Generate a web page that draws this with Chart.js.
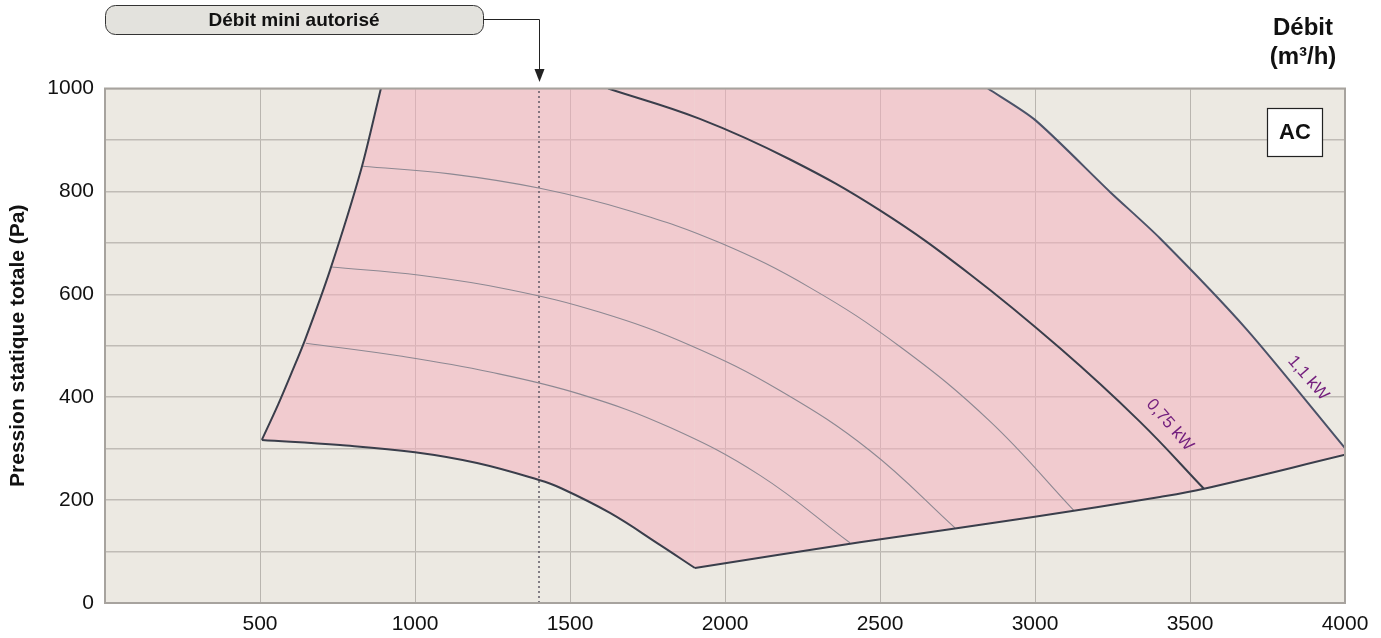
<!DOCTYPE html>
<html>
<head>
<meta charset="utf-8">
<title>Débit / Pression statique - AC</title>
<script src="https://cdn.jsdelivr.net/npm/chart.js"></script>
<style>
  body { margin: 0; background: #fff; }
  canvas { display: block; }
</style>
</head>
<body>
<canvas id="fanChart" width="1381" height="638"></canvas>
<script>
// Débit (m3/h) / pression statique totale (Pa)
const leftEdgeX = [506, 558, 603, 645, 726, 826, 890];
const leftEdgeY = [317, 385, 449, 511, 647, 842, 1000];

const bottomLeftX = [506, 758, 1000, 1200, 1400, 1468, 1629, 1790, 1903];
const bottomLeftY = [317, 307, 293, 272, 239, 224, 175, 113, 68];

const bottomRightX = [1903, 2435, 2994, 3403, 3545, 4000];
const bottomRightY = [68, 118, 167, 206, 222, 288];

const kw075X = [1623, 1919, 2210, 2500, 2790, 3081, 3339, 3545];
const kw075Y = [1000, 941, 862, 763, 639, 495, 352, 222];

const kw11X = [2848, 3000, 3242, 3403, 3684, 4000];
const kw11Y = [1000, 939, 799, 709, 531, 301];

// courbes de vitesse (fines, grises)
const speedAX = [831, 1113, 1403, 1694, 1984, 2274, 2565, 2855, 3125];
const speedAY = [849, 834, 806, 762, 700, 613, 498, 353, 180];
const speedBX = [729, 1016, 1306, 1597, 1887, 2177, 2468, 2742];
const speedBY = [653, 637, 609, 565, 501, 413, 296, 146];
const speedCX = [648, 952, 1242, 1532, 1823, 2113, 2403];
const speedCY = [505, 480, 449, 406, 341, 248, 117];

const minFlow = 1400;

const xTickLabels = [500, 1000, 1500, 2000, 2500, 3000, 3500, 4000];
const yTickLabels = [0, 200, 400, 600, 800, 1000];

// étiquettes de puissance : [texte, débit, pression]
const kwLabels = [['0,75 kW', 3435, 346], ['1,1 kW', 3881, 437]];

const FONT = "'Liberation Sans', Arial, sans-serif";
const DARK = '#3a3e4b';

function pts(xs, ys) {
    return xs.map((x, i) => ({ x: x, y: ys[i] }));
}

function curve(data, color, width, extra) {
    return Object.assign({
        data: data,
        borderColor: color,
        borderWidth: width,
        pointRadius: 0,
        fill: false,
        tension: 0.4
    }, extra || {});
}

const pink = 'rgba(245, 176, 190, 0.52)';

const datasets = [
    // 0 : enveloppe haute, sert seulement de limite au remplissage
    { data: pts(leftEdgeX.concat(kw11X), leftEdgeY.concat(kw11Y)), borderWidth: 0,
      borderColor: 'rgba(0,0,0,0)', pointRadius: 0, fill: false, tension: 0 },
    curve(pts(bottomLeftX, bottomLeftY), DARK, 2, { fill: 0, backgroundColor: pink }),
    curve(pts(bottomRightX, bottomRightY), DARK, 2, { fill: 0, backgroundColor: pink }),
    curve(pts(leftEdgeX, leftEdgeY), DARK, 2, { tension: 0.3 }),
    curve(pts(kw11X, kw11Y), '#4b5268', 2, { tension: 0.25 }),
    curve(pts(kw075X, kw075Y), DARK, 2),
    curve(pts(speedAX, speedAY), '#8d8892', 1.1),
    curve(pts(speedBX, speedBY), '#8d8892', 1.1),
    curve(pts(speedCX, speedCY), '#8d8892', 1.1),
    curve(pts([minFlow, minFlow], [0, 1000]), '#5e5964', 1.5, { borderDash: [2, 3], tension: 0 })
];

const decor = {
    id: 'decor',
    beforeDraw(chart) {
        const { ctx, chartArea: a } = chart;
        ctx.save();
        ctx.fillStyle = '#ECE9E2';
        ctx.fillRect(a.left, a.top, a.right - a.left, a.bottom - a.top);
        ctx.restore();
    },
    afterDraw(chart) {
        const { ctx, chartArea: a, scales } = chart;
        const xs = scales.x, ys = scales.y;
        ctx.save();

        // cadre
        ctx.strokeStyle = '#a7a39e';
        ctx.lineWidth = 2;
        ctx.strokeRect(a.left, a.top, a.right - a.left, a.bottom - a.top);

        // cartouche "Débit mini autorisé" + flèche
        ctx.beginPath();
        ctx.roundRect(105.5, 5.5, 378, 29, 10);
        ctx.fillStyle = '#e3e2dd';
        ctx.fill();
        ctx.strokeStyle = '#333';
        ctx.lineWidth = 1;
        ctx.stroke();
        ctx.fillStyle = '#111';
        ctx.font = 'bold 19px ' + FONT;
        ctx.textAlign = 'center';
        ctx.textBaseline = 'middle';
        ctx.fillText('Débit mini autorisé', 294, 21);

        const xm = Math.round(xs.getPixelForValue(minFlow)) + 0.5;
        ctx.beginPath();
        ctx.moveTo(483.5, 19.5);
        ctx.lineTo(xm, 19.5);
        ctx.lineTo(xm, 72);
        ctx.strokeStyle = '#222';
        ctx.stroke();
        ctx.beginPath();
        ctx.moveTo(xm - 5, 69);
        ctx.lineTo(xm + 5, 69);
        ctx.lineTo(xm, 82);
        ctx.closePath();
        ctx.fillStyle = '#222';
        ctx.fill();

        // titre de l'axe des débits
        ctx.fillStyle = '#111';
        ctx.font = 'bold 24px ' + FONT;
        ctx.fillText('Débit', 1303, 28);
        ctx.fillText('(m³/h)', 1303, 57);

        // repère AC
        ctx.fillStyle = '#fff';
        ctx.fillRect(1267.5, 108.5, 55, 48);
        ctx.strokeStyle = '#222';
        ctx.lineWidth = 1.2;
        ctx.strokeRect(1267.5, 108.5, 55, 48);
        ctx.fillStyle = '#111';
        ctx.font = 'bold 22px ' + FONT;
        ctx.fillText('AC', 1295, 133);

        // puissances moteur
        ctx.fillStyle = '#74207e';
        ctx.font = '17px ' + FONT;
        kwLabels.forEach(function (l) {
            ctx.save();
            ctx.translate(xs.getPixelForValue(l[1]), ys.getPixelForValue(l[2]));
            ctx.rotate(49 * Math.PI / 180);
            ctx.fillText(l[0], 0, 0);
            ctx.restore();
        });
        ctx.restore();
    }
};

new Chart(document.getElementById('fanChart'), {
    type: 'line',
    data: { datasets: datasets },
    plugins: [decor],
    options: {
        responsive: false,
        animation: false,
        events: [],
        layout: { padding: { top: 88.5, right: 36, bottom: 0, left: 0 } },
        plugins: {
            legend: { display: false },
            tooltip: { enabled: false },
            filler: { drawTime: 'beforeDatasetsDraw' }
        },
        scales: {
            x: {
                type: 'linear',
                min: 0,
                max: 4000,
                afterFit: function (s) { s.height = 35; },
                grid: { color: '#b9b5af', lineWidth: 1, drawTicks: false },
                border: { color: '#a7a39e', width: 2 },
                ticks: {
                    stepSize: 500,
                    autoSkip: false,
                    maxRotation: 0,
                    padding: 9,
                    color: '#111',
                    font: { family: FONT, size: 21 },
                    callback: function (v) { return xTickLabels.includes(v) ? String(v) : ''; }
                }
            },
            y: {
                min: 0,
                max: 1000,
                afterFit: function (s) { s.width = 105; },
                grid: { color: '#c0bcb6', lineWidth: 1.6, drawTicks: false },
                border: { color: '#a7a39e', width: 2 },
                title: {
                    display: true,
                    text: 'Pression statique totale (Pa)',
                    color: '#111',
                    font: { family: FONT, size: 21, weight: 'bold' },
                    padding: { top: 6, bottom: 0 }
                },
                ticks: {
                    stepSize: 100,
                    autoSkip: false,
                    padding: 11,
                    color: '#111',
                    font: { family: FONT, size: 21 },
                    callback: function (v) { return yTickLabels.includes(v) ? String(v) : ''; }
                }
            }
        }
    }
});
</script>
</body>
</html>
